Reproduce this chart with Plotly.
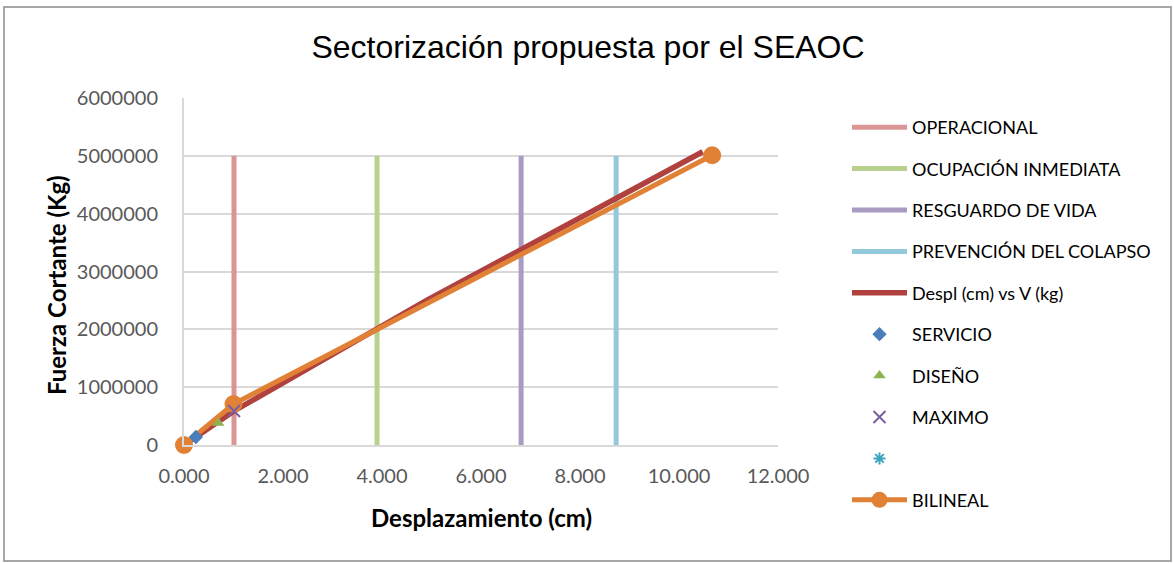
import plotly.graph_objects as go

# ---- data ----
levels = ["OPERACIONAL", "OCUPACIÓN INMEDIATA", "RESGUARDO DE VIDA", "PREVENCIÓN DEL COLAPSO"]
level_x = [1.01, 3.90, 6.81, 8.73]
level_y = [0, 5000000]
level_colors = ["#d99694", "#b9d18f", "#aa9bc3", "#93c9da"]

despl_x = [0.0, 0.24, 0.69, 1.01, 4.90, 10.48]
despl_y = [0, 138000, 380000, 588000, 2500000, 5070000]

servicio_x = [0.24]
servicio_y = [138000]
diseno_x = [0.69]
diseno_y = [380000]
maximo_x = [1.01]
maximo_y = [588000]

bilineal_x = [0.0, 1.0, 10.67]
bilineal_y = [0, 709000, 5010000]

x_ticks = [0, 2, 4, 6, 8, 10, 12]
y_ticks = [0, 1000000, 2000000, 3000000, 4000000, 5000000, 6000000]

W, H = 1174, 563
L, R, T, B = 184, 778, 98, 445
PW, PH = R - L, B - T


def px(x):
    return (x - L) / PW


def py(y):
    return (B - y) / PH


FONT = "Lato, Carlito, Calibri, sans-serif"

fig = go.Figure()

for i, (name, xv, col) in enumerate(zip(levels, level_x, level_colors)):
    fig.add_trace(go.Scatter(x=[xv, xv], y=level_y, mode="lines", name=name,
                             line=dict(color=col, width=5), legendgroup=f"g{i}",
                             legendrank=i + 1))

fig.add_trace(go.Scatter(x=despl_x, y=despl_y, mode="lines", name="Despl (cm) vs V (kg)",
                         line=dict(color="#b0413e", width=5.5), legendgroup="g5", legendrank=5))

fig.add_trace(go.Scatter(x=bilineal_x, y=bilineal_y, mode="lines+markers", name="BILINEAL",
                         line=dict(color="#e08136", width=5),
                         marker=dict(color="#e08136", size=18, symbol="circle"),
                         cliponaxis=False, legendgroup="g10", legendrank=10))

fig.add_trace(go.Scatter(x=servicio_x, y=servicio_y, mode="markers", name="SERVICIO",
                         marker=dict(color="#4a7ebb", size=11, symbol="diamond"),
                         cliponaxis=False, legendgroup="g6", legendrank=6))
fig.add_trace(go.Scatter(x=diseno_x, y=diseno_y, mode="markers", name="DISEÑO",
                         marker=dict(color="#8fb24f", size=11, symbol="triangle-up"),
                         cliponaxis=False, legendgroup="g7", legendrank=7))
fig.add_trace(go.Scatter(x=maximo_x, y=maximo_y, mode="markers", name="MAXIMO",
                         marker=dict(color="#7a5fa0", size=12, symbol="x-thin-open",
                                     line=dict(color="#7a5fa0", width=2)),
                         cliponaxis=False, legendgroup="g8", legendrank=8))
fig.add_trace(go.Scatter(x=[None], y=[None], mode="markers", name=" ",
                         marker=dict(color="#3ba3be", size=10, symbol="asterisk-open",
                                     line=dict(color="#3ba3be", width=2)),
                         legendgroup="g9", legendrank=9))

tick_font = dict(family=FONT, size=20, color="#595959")
axis_title_font = dict(family=FONT, size=24, color="#000000")

fig.update_layout(
    width=W, height=H,
    margin=dict(l=L, r=W - R, t=T, b=H - B),
    paper_bgcolor="white", plot_bgcolor="white",
    title=dict(text="Sectorización propuesta por el SEAOC",
               font=dict(family="Liberation Sans, Arial, sans-serif", size=32, color="#000000"),
               x=588 / W, xanchor="center", xref="container",
               y=1 - 47 / H, yanchor="middle", yref="container"),
    xaxis=dict(range=[0, 12], tickvals=x_ticks, tickformat=".3f",
               showgrid=False, zeroline=False, showline=True, linecolor="#d9d9d9", linewidth=2,
               ticks="", tickfont=tick_font, ticklabelstandoff=12),
    yaxis=dict(range=[0, 6000000], tickvals=y_ticks, tickformat="d",
               showgrid=True, gridcolor="#d9d9d9", gridwidth=2, zeroline=False,
               showline=True, linecolor="#d9d9d9", linewidth=2,
               ticks="", tickfont=tick_font, ticklabelstandoff=20),
    legend=dict(x=px(847), xanchor="left", y=py(109), yanchor="top",
                font=dict(family=FONT, size=18, color="#000000"),
                tracegroupgap=15, itemwidth=55, bgcolor="rgba(0,0,0,0)",
                maxheight=600),
    showlegend=True,
    annotations=[
        dict(text="<b>Desplazamiento (cm)</b>", xref="paper", yref="paper",
             x=0.5, y=py(517), xanchor="center", yanchor="middle",
             showarrow=False, font=axis_title_font),
        dict(text="<b>Fuerza Cortante (Kg)</b>", xref="paper", yref="paper",
             x=px(56), y=py(285), xanchor="center", yanchor="middle", textangle=-90,
             showarrow=False, font=axis_title_font),
    ],
    shapes=[dict(type="rect", xref="paper", yref="paper",
                 x0=px(4), x1=px(1171), y0=py(561), y1=py(7),
                 line=dict(color="#8c8c8c", width=1.5), fillcolor="rgba(0,0,0,0)",
                 layer="below")],
)

fig.write_html("out.html", config={"displayModeBar": False},
               post_script="document.body.style.margin='0';")
